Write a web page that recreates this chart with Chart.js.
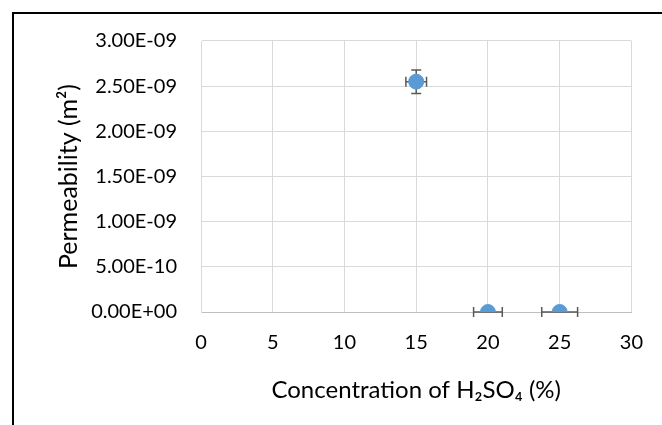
<!DOCTYPE html>
<html>
<head>
<meta charset="utf-8">
<script src="https://cdn.jsdelivr.net/npm/chart.js@4"></script>
<style>
  body { margin: 0; background: #fff; }
  #wrap { position: relative; width: 662px; height: 425px; overflow: hidden; }
  #frame { position: absolute; left: 12px; top: 12px; width: 700px; height: 500px; border-left: 2px solid #000; border-top: 2px solid #000; }
  #permChart { position: absolute; left: 0; top: 0; }
</style>
</head>
<body>
<div id="wrap">
  <div id="frame"></div>
  <canvas id="permChart" width="662" height="425"></canvas>
</div>
<script>
// data
const concentration = [15, 20, 25];          // % H2SO4
const permeability = [2.55e-9, 0, 0];         // m^2
const concErr = [0.72, 1.0, 1.25];            // x error
const permErr = [1.3e-10, 0, 0];              // y error

const xTicks = [0, 5, 10, 15, 20, 25, 30];
const yTickLabels = ["0.00E+00", "5.00E-10", "1.00E-09", "1.50E-09", "2.00E-09", "2.50E-09", "3.00E-09"];

// error bars drawn behind the points, positioned with the chart scales
const errorBars = {
    id: "errorBars",
    beforeDatasetsDraw(chart) {
        const ctx = chart.ctx;
        const xs = chart.scales.x;
        const ys = chart.scales.y;
        const cap = 5;
        ctx.save();
        ctx.strokeStyle = "#595959";
        ctx.lineWidth = 1.5;
        for (let i = 0; i < concentration.length; i++) {
            const px = xs.getPixelForValue(concentration[i]);
            const py = ys.getPixelForValue(permeability[i]);
            ctx.beginPath();
            if (concErr[i] > 0) {
                const x1 = xs.getPixelForValue(concentration[i] - concErr[i]);
                const x2 = xs.getPixelForValue(concentration[i] + concErr[i]);
                ctx.moveTo(x1, py); ctx.lineTo(x2, py);
                ctx.moveTo(x1, py - cap); ctx.lineTo(x1, py + cap);
                ctx.moveTo(x2, py - cap); ctx.lineTo(x2, py + cap);
            }
            if (permErr[i] > 0) {
                const y1 = ys.getPixelForValue(permeability[i] - permErr[i]);
                const y2 = ys.getPixelForValue(permeability[i] + permErr[i]);
                ctx.moveTo(px, y1); ctx.lineTo(px, y2);
                ctx.moveTo(px - cap, y1); ctx.lineTo(px + cap, y1);
                ctx.moveTo(px - cap, y2); ctx.lineTo(px + cap, y2);
            }
            ctx.stroke();
        }
        ctx.restore();
    }
};

const ctx = document.getElementById("permChart").getContext("2d");

new Chart(ctx, {
    type: "scatter",
    data: {
        datasets: [{
            data: concentration.map((c, i) => ({ x: c, y: permeability[i] })),
            backgroundColor: "#5b9bd5",
            borderColor: "#5b9bd5",
            pointRadius: 7.5,
            pointHoverRadius: 7.5
        }]
    },
    options: {
        responsive: false,
        animation: false,
        layout: { padding: { top: 41, right: 30, left: 0, bottom: 0 } },
        plugins: {
            legend: { display: false },
            tooltip: { enabled: false }
        },
        scales: {
            x: {
                type: "linear",
                min: 0,
                max: 30,
                afterFit: s => { s.height = 113; },
                afterBuildTicks: s => { s.ticks = xTicks.map(v => ({ value: v })); },
                grid: { color: "#d9d9d9", drawTicks: false },
                border: { color: "#bfbfbf", width: 1 },
                ticks: { color: "#000", padding: 19, font: { family: "Lato", size: 20 } },
                title: {
                    display: true,
                    text: "Concentration of H\u2082SO\u2084 (%)",
                    color: "#000",
                    font: { family: "Lato", size: 24 },
                    padding: { top: 0, bottom: 20 }
                }
            },
            y: {
                min: 0,
                max: 3e-9,
                afterFit: s => { s.width = 201; },
                afterBuildTicks: s => { s.ticks = yTickLabels.map((t, i) => ({ value: i * 5e-10 })); },
                grid: { color: "#d9d9d9", drawTicks: false },
                border: { color: "#d9d9d9", width: 1 },
                ticks: {
                    color: "#000",
                    padding: 24,
                    font: { family: "Lato", size: 20 },
                    callback: (v, i) => yTickLabels[i]
                },
                title: {
                    display: true,
                    text: "Permeability (m\u00b2)",
                    color: "#000",
                    font: { family: "Lato", size: 25 },
                    padding: { top: 54, bottom: 0 }
                }
            }
        }
    },
    plugins: [errorBars]
});
</script>
</body>
</html>
